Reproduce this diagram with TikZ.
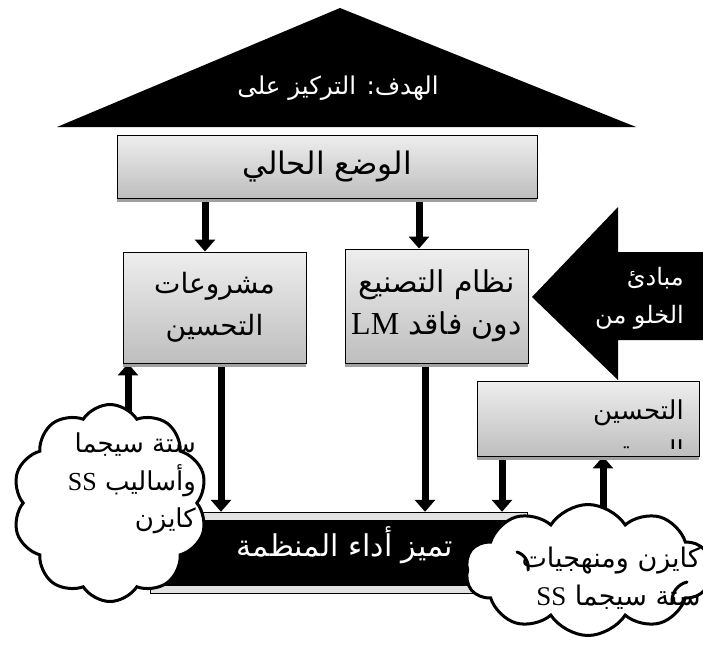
\documentclass[tikz,border=0pt]{standalone}
\usepackage{fontspec}
\usepackage{tikz}
\usetikzlibrary{arrows.meta,positioning,shapes.symbols,shadows,backgrounds}
\TeXXeTstate=1
\newfontfamily\arabicfont[Script=Arabic]{DejaVu Sans}
\newfontfamily\latinserif{Liberation Serif}
\newcommand{\rtlline}[1]{\beginR #1\endR}
\newcommand{\ltrword}[1]{\beginL{\latinserif #1}\endL}
\definecolor{boxtop}{HTML}{EEEEEE}
\definecolor{boxbottom}{HTML}{BEBEBE}
\definecolor{boxshadow}{HTML}{A0A0A0}
\definecolor{frameband}{HTML}{E2E2E2}

\begin{document}
\begin{tikzpicture}[x=1pt, y=-1pt,
  box/.style={draw, line width=0.9pt, top color=boxtop, bottom color=boxbottom,
    drop shadow={shadow xshift=0pt, shadow yshift=-3.5pt, fill=boxshadow, opacity=1},
    align=center, inner sep=0pt, font=\arabicfont\fontsize{30}{42}\selectfont},
  perfbox/.style={draw=black, line width=0.8pt, double=frameband, double distance=7pt,
    fill=black, inner sep=0pt,
    drop shadow={shadow xshift=0pt, shadow yshift=-3.5pt, fill=boxshadow, opacity=1}},
  cloudshape/.style={cloud, cloud puffs=10, cloud puff arc=115, draw, line width=3pt,
    fill=white, inner sep=0pt},
  puffline/.style={line width=3pt, line cap=round},
  labeltxt/.style={inner sep=0pt, align=right, font=\arabicfont\fontsize{26}{37.5}\selectfont},
  whitetxt/.style={labeltxt, text=white},
  arr/.style={line width=7pt, -{Triangle[length=12pt, width=20pt]}},
]
\useasboundingbox (0,0) rectangle (703,648);

% roof
\fill[black] (340,8) -- (636,127) -- (57,127) -- cycle;
\node[whitetxt, font=\arabicfont\fontsize{24.5}{30}\selectfont] (goal) at (338,88)
  {\rtlline{الهدف: التركيز على}};

% boxes
\node[box, minimum width=420, minimum height=63, font=\arabicfont\fontsize{31}{42}\selectfont]
  (cur) at (327,166.5) {\rtlline{الوضع الحالي}};
\node[box, minimum width=183, minimum height=111, font=\arabicfont\fontsize{28}{42}\selectfont]
  (prj) at (214.5,307.5) {\rtlline{مشروعات}\\\rtlline{التحسين}};
\node[box, minimum width=183, minimum height=114] (lm) at (436.5,306)
  {\rtlline{نظام التصنيع}\\\rtlline{دون فاقد {\fontsize{32}{42}\selectfont\ltrword{LM}}}};
\node[box, minimum width=222, minimum height=75] (impr) at (588,418.5) {};
\node[labeltxt, anchor=east] (imprtxt) at (684,413) {\rtlline{التحسين}};
\begin{scope}
  \clip (impr.north west) rectangle ([yshift=8pt]impr.south east);
  \node[labeltxt, anchor=north east] (imprmore) at (684,440) {\rtlline{المستمر}};
\end{scope}

% principles arrow
\fill[black] (532,297) -- (618,207) -- (618,252) -- (710,252) -- (710,340)
  -- (618,340) -- (618,380) -- cycle;
\node[whitetxt, anchor=east, font=\arabicfont\fontsize{24}{38}\selectfont] (princ) at (684,298)
  {\rtlline{مبادئ}\\\rtlline{الخلو من}};

% performance
\node[perfbox, minimum width=369, minimum height=73] (perf) at (339,553) {};
\node[whitetxt, font=\arabicfont\fontsize{30}{38}\selectfont] (perftxt) at (345,545)
  {\rtlline{تميز أداء المنظمة}};
\coordinate (ptop) at ([yshift=4.3pt]perf.north);

% clouds
\node[cloudshape, minimum width=195, minimum height=197] (lcloud) at (110,503) {};
\node[labeltxt, anchor=north east] (lcloudtxt) at (196,433)
  {\rtlline{ستة سيجما}\\\rtlline{وأساليب \ltrword{SS}}\\\rtlline{كايزن}};
\node[cloudshape, minimum width=245, minimum height=131] (rcloud) at (588,570) {};
\node[labeltxt, anchor=north east, font=\arabicfont\fontsize{27}{38}\selectfont] (rcloudtxt)
  at (701,547) {\rtlline{كايزن ومنهجيات}\\\rtlline{ستة سيجما \ltrword{SS}}};
\draw[puffline] ([shift={(-71,-18)}]rcloud.center) to[bend left=40] ([shift={(-60,0)}]rcloud.center);
\draw[puffline] ([shift={(84,33)}]rcloud.center) to[bend left=40] ([shift={(99,12)}]rcloud.center);

% connectors
\coordinate (a1) at ([xshift=-9.5pt]prj.north);
\coordinate (a2) at ([xshift=-17.5pt]lm.north);
\coordinate (a3) at ([xshift=6.5pt]prj.south);
\coordinate (a4) at ([xshift=-11.5pt]lm.south);
\coordinate (a5) at ([xshift=-86pt]impr.south);
\coordinate (a6) at ([xshift=15pt]impr.south);
\coordinate (a7) at ([xshift=-86.5pt]prj.south);
\begin{scope}[on background layer]
  \draw[arr] (a1 |- cur.south) -- (a1);
  \draw[arr] (a2 |- cur.south) -- (a2);
  \draw[arr] (a3) -- (a3 |- ptop);
  \draw[arr] (a4) -- (a4 |- ptop);
  \draw[arr] (a5) -- (a5 |- ptop);
  \draw[arr] (a6 |- rcloud.center) -- (a6);
  \draw[arr] (a7 |- lcloud.center) -- (a7);
\end{scope}
\end{tikzpicture}
\end{document}
